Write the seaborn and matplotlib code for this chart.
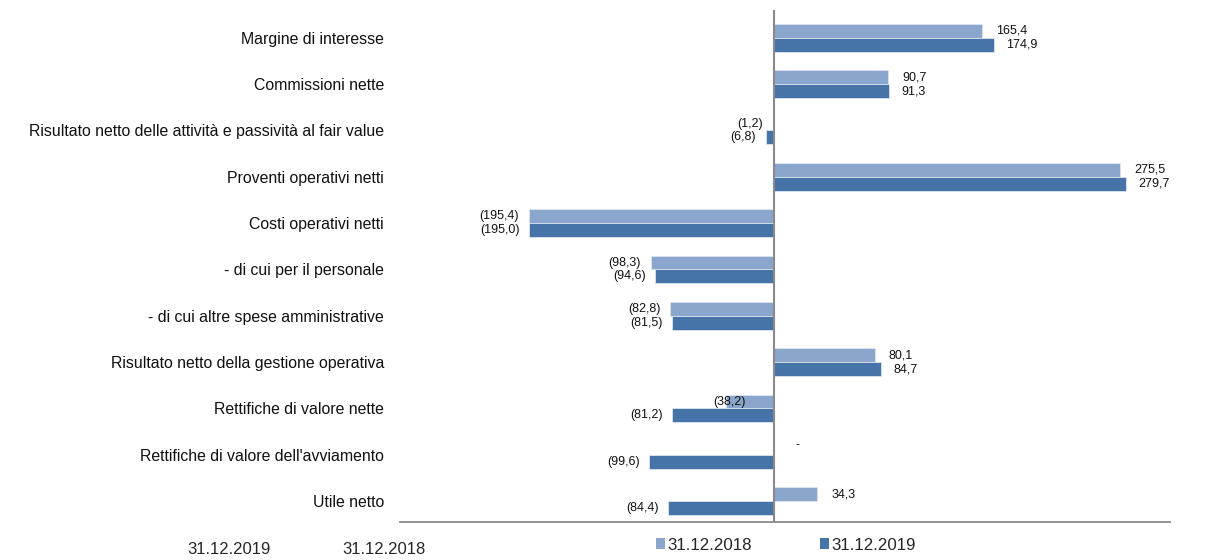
import matplotlib
matplotlib.use("Agg")
import matplotlib.pyplot as plt
import seaborn as sns
import pandas as pd
from matplotlib.patches import Patch

categories = [
    "Margine di interesse",
    "Commissioni nette",
    "Risultato netto delle attività e passività al fair value",
    "Proventi operativi netti",
    "Costi operativi netti",
    "- di cui per il personale",
    "- di cui altre spese amministrative",
    "Risultato netto della gestione operativa",
    "Rettifiche di valore nette",
    "Rettifiche di valore dell'avviamento",
    "Utile netto",
]
values_2018 = [165.4, 90.7, -1.2, 275.5, -195.4, -98.3, -82.8, 80.1, -38.2, 0.0, 34.3]
values_2019 = [174.9, 91.3, -6.8, 279.7, -195.0, -94.6, -81.5, 84.7, -81.2, -99.6, -84.4]
series = ["31.12.2018", "31.12.2019"]
bottom_left_labels = ["31.12.2019", "31.12.2018"]

colors = {"31.12.2018": "#8BA6CC", "31.12.2019": "#4674A8"}

df = pd.DataFrame({
    "categoria": categories * 2,
    "valore": values_2018 + values_2019,
    "serie": [series[0]] * len(categories) + [series[1]] * len(categories),
})

sns.set_style("white")
plt.rcParams["font.family"] = ["Liberation Sans", "DejaVu Sans"]

W, H = 1209, 560
fig = plt.figure(figsize=(W / 100, H / 100), dpi=100)
ax = fig.add_axes([400 / W, (H - 522) / H, 770 / W, 512 / H])

sns.barplot(data=df, y="categoria", x="valore", hue="serie", hue_order=series,
            order=categories, palette=colors, orient="h", width=0.6, saturation=1,
            edgecolor="#DCE4F0", linewidth=0.6, legend=False, ax=ax)

ax.set_xlim(-298, 315)
ax.set_ylim(10.45, -0.6)
ax.set_xlabel("")
ax.set_ylabel("")
ax.set_xticks([])
ax.tick_params(axis="y", length=0, pad=11.5)
for lab in ax.get_yticklabels():
    lab.set_fontsize(11.4)
    lab.set_color("#111111")

for s in ["top", "right", "left"]:
    ax.spines[s].set_visible(False)
ax.spines["bottom"].set_color("#8A8A8A")
ax.spines["bottom"].set_linewidth(1.3)
ax.axvline(0, color="#8A8A8A", linewidth=1.5, ymin=0, ymax=1, zorder=3)


def fmt(v):
    if v == 0:
        return "-"
    s = f"{abs(v):.1f}".replace(".", ",")
    return f"({s})" if v < 0 else s


# label offset overrides (points) for specific labels: (series index, category index)
overrides = {(0, 8): (14, "right"), (0, 9): (15, "left")}

for si, vals in enumerate([values_2018, values_2019]):
    off = -0.15 if si == 0 else 0.15
    for ci, v in enumerate(vals):
        y = ci + off
        if (si, ci) in overrides:
            dx, ha = overrides[(si, ci)]
            dy = 2 if v == 0 else 0
        elif v >= 0:
            dx, ha, dy = (10 if si == 0 else 9), "left", 0
        else:
            dx, ha, dy = -7, "right", 0
        ax.annotate(fmt(v), xy=(v, y), xytext=(dx, dy), textcoords="offset points",
                    ha=ha, va="center", fontsize=9, color="#111111")

handles = [Patch(facecolor=colors[s], edgecolor="none") for s in series]
fig.legend(handles, series, loc="center", bbox_to_anchor=(786 / W, 1 - 545 / H),
           ncol=2, frameon=False, fontsize=12.2, handlelength=0.55, handleheight=0.55,
           handletextpad=0.15, columnspacing=4.0)

fig.text(229 / W, 1 - 550 / H, bottom_left_labels[0], ha="center", va="center", fontsize=12)
fig.text(384 / W, 1 - 550 / H, bottom_left_labels[1], ha="center", va="center", fontsize=12)

fig.savefig("out.png", dpi=100)
